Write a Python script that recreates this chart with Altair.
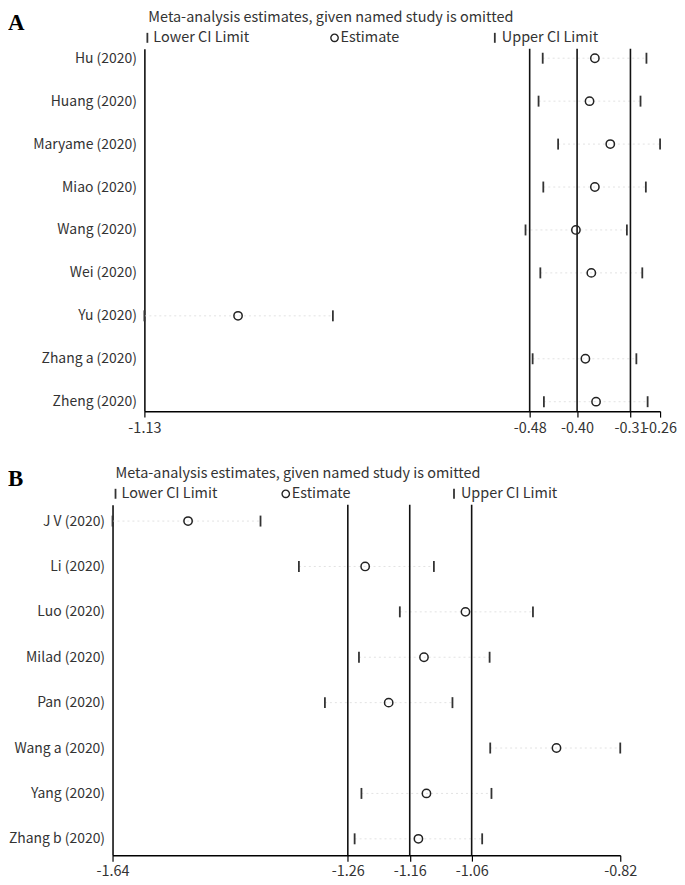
import altair as alt
import pandas as pd

FONT = "Noto Sans CJK KR"
FS = 14.5
TITLE = "Meta-analysis estimates, given named study is omitted"
LEGEND_LABELS = ["Lower CI Limit", "Estimate", "Upper CI Limit"]

# Panel A
studies_a = ["Hu (2020)", "Huang (2020)", "Maryame (2020)", "Miao (2020)", "Wang (2020)",
             "Wei (2020)", "Yu (2020)", "Zhang a (2020)", "Zheng (2020)"]
lower_a = [-0.458, -0.465, -0.432, -0.457, -0.487, -0.462, -1.130, -0.475, -0.456]
est_a = [-0.370, -0.379, -0.344, -0.370, -0.402, -0.376, -0.972, -0.386, -0.368]
upper_a = [-0.283, -0.293, -0.260, -0.284, -0.316, -0.290, -0.812, -0.300, -0.281]
ref_a = [-0.48, -0.40, -0.31]
ticks_a = [-1.13, -0.48, -0.40, -0.31, -0.26]
domain_a = [-1.13, -0.26]

# Panel B
studies_b = ["J V (2020)", "Li (2020)", "Luo (2020)", "Milad  (2020)", "Pan (2020)",
             "Wang a (2020)", "Yang (2020)", "Zhang b (2020)"]
lower_b = [-1.640, -1.339, -1.176, -1.242, -1.297, -1.030, -1.238, -1.249]
est_b = [-1.518, -1.232, -1.070, -1.137, -1.194, -0.923, -1.133, -1.146]
upper_b = [-1.401, -1.121, -0.961, -1.031, -1.091, -0.820, -1.028, -1.043]
ref_b = [-1.26, -1.16, -1.06]
ticks_b = [-1.64, -1.26, -1.16, -1.06, -0.82]
domain_b = [-1.64, -0.82]


def text_layer(s, x, y, size=FS, font=FONT, weight="normal", color="#333"):
    return alt.Chart(pd.DataFrame({"t": [s]})).mark_text(
        align="left", baseline="middle", font=font, fontSize=size,
        fontWeight=weight, color=color
    ).encode(x=alt.value(x), y=alt.value(y), text="t:N")


def panel(letter, studies, lower, est, upper, refs, ticks, domain, x0, width, height,
          ypad, xlabpad, letter_x, title_x, lx, ex, ux):
    df = pd.DataFrame({"study": studies, "lower": lower, "est": est, "upper": upper})
    x_scale = alt.Scale(domain=domain, nice=False, zero=False, range=[x0, width])
    x_axis = alt.Axis(title=None, values=ticks,
                      labelExpr="'-' + format(-datum.value, '.2f')",
                      labelFlush=False, labelOverlap=False, tickSize=6,
                      tickColor="black", tickWidth=1.2,
                      domainColor="black", domainWidth=1.5, labelPadding=xlabpad,
                      labelFont=FONT, labelFontSize=FS, labelColor="#333", grid=False)
    y_axis = alt.Axis(title=None, ticks=False, labelPadding=8, domainColor="black",
                      domainWidth=1.5, labelFont=FONT, labelFontSize=14,
                      labelColor="#333", grid=False, offset=-x0)
    y_enc = alt.Y("study:N", sort=studies,
                  scale=alt.Scale(type="point", padding=ypad), axis=y_axis)

    def xe(f):
        return alt.X(f, scale=x_scale, axis=x_axis)

    base = alt.Chart(df)
    conn = base.mark_rule(color="#e2e2e2", strokeDash=[2, 3], strokeWidth=1).encode(
        x=xe("lower:Q"), x2="upper:Q", y=y_enc)
    refl = alt.Chart(pd.DataFrame({"ref": refs})).mark_rule(
        color="#111", strokeWidth=1.6).encode(x=xe("ref:Q"))
    lo = base.mark_tick(orient="vertical", size=11, thickness=1.8, color="#333",
                        opacity=1).encode(x=xe("lower:Q"), y=y_enc)
    up = base.mark_tick(orient="vertical", size=11, thickness=1.8, color="#333",
                        opacity=1).encode(x=xe("upper:Q"), y=y_enc)
    pt = base.mark_point(shape="circle", size=70, filled=False, color="#222",
                         strokeWidth=1.5, opacity=1).encode(x=xe("est:Q"), y=y_enc)

    ly = -11
    sym = pd.DataFrame({"k": [0]})
    lrule = alt.Chart(sym).mark_rule(color="#333", strokeWidth=1.8).encode(
        x=alt.value(lx), y=alt.value(ly - 5), y2=alt.value(ly + 5))
    urule = alt.Chart(sym).mark_rule(color="#333", strokeWidth=1.8).encode(
        x=alt.value(ux), y=alt.value(ly - 5), y2=alt.value(ly + 5))
    ecirc = alt.Chart(sym).mark_point(shape="circle", size=55, filled=False,
                                      color="#222", strokeWidth=1.4, opacity=1).encode(
        x=alt.value(ex), y=alt.value(ly))

    header = [
        text_layer(letter, letter_x, -26, size=23, font="Liberation Serif",
                   weight="bold", color="black"),
        text_layer(TITLE, title_x, -31),
        lrule, text_layer(LEGEND_LABELS[0], lx + 6, ly),
        ecirc, text_layer(LEGEND_LABELS[1], ex + 6, ly),
        urule, text_layer(LEGEND_LABELS[2], ux + 7, ly),
    ]
    return alt.layer(conn, refl, lo, up, pt, *header).properties(width=width, height=height)


pa = panel("A", studies_a, lower_a, est_a, upper_a, ref_a, ticks_a, domain_a,
           32, 550, 364, 0.22, 4, -105, 36, 35, 223, 384)
pb = panel("B", studies_b, lower_b, est_b, upper_b, ref_b, ticks_b, domain_b,
           0, 510, 352, 0.36, 3, -105, 3, 3, 174, 343)

chart = alt.concat(pa, pb, columns=1, spacing=31, bounds="full",
                   padding=0).configure_view(strokeWidth=0)

chart.save("out.html", embed_options={"renderer": "svg", "actions": False})
